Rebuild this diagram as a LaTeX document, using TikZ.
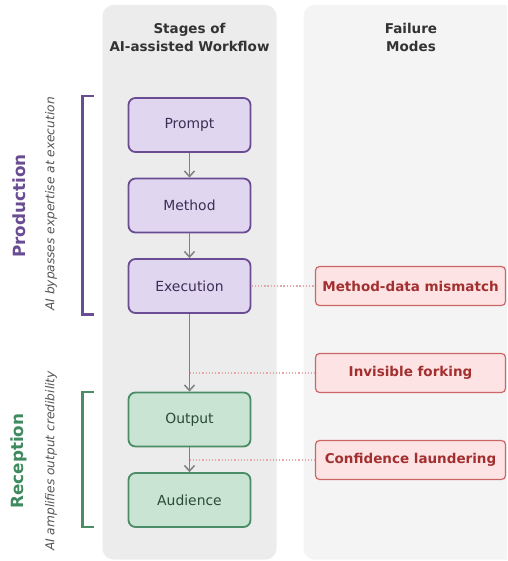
\documentclass[tikz,border=0pt]{standalone}
\usepackage{fontspec}
\setmainfont{DejaVu Sans}
\usetikzlibrary{arrows.meta}
\definecolor{panelA}{HTML}{ECECEC}
\definecolor{panelB}{HTML}{F4F4F4}
\definecolor{pfill}{HTML}{E0D6F0}
\definecolor{pdraw}{HTML}{6A4C93}
\definecolor{ptext}{HTML}{3C2F55}
\definecolor{gfill}{HTML}{C9E4D3}
\definecolor{gdraw}{HTML}{4A8C66}
\definecolor{gtext}{HTML}{2A4A37}
\definecolor{glabel}{HTML}{3F8A5F}
\definecolor{rfill}{HTML}{FDE3E3}
\definecolor{rdraw}{HTML}{CC6666}
\definecolor{rtext}{HTML}{A33030}
\definecolor{dotc}{HTML}{E6A8A8}
\definecolor{arrc}{HTML}{808080}
\definecolor{headc}{HTML}{333333}
\definecolor{notec}{HTML}{555555}
\tikzset{
  txt/.style={font=\fontsize{13.9}{16}\selectfont},
  stagebox/.style={txt, draw, line width=1.8pt, rounded corners=7pt,
    minimum width=122pt, minimum height=54pt, inner sep=0pt},
  prod/.style={stagebox, fill=pfill, draw=pdraw, text=ptext},
  recp/.style={stagebox, fill=gfill, draw=gdraw, text=gtext},
  fail/.style={font=\fontsize{13.5}{16}\selectfont\bfseries, draw=rdraw, fill=rfill,
    text=rtext, line width=1.2pt, rounded corners=4pt,
    minimum width=190pt, minimum height=39pt, inner sep=0pt},
  head/.style={font=\fontsize{13.5}{16}\selectfont\bfseries, text=headc, anchor=base},
  flow/.style={draw=arrc, line width=1.5pt, -{Straight Barb[length=5.5pt,width=10pt,line width=1.5pt]}},
  link/.style={draw=dotc, line width=1.2pt, dash pattern=on 1.3pt off 1.9pt},
  brace/.style={line width=2.4pt},
  phase/.style={font=\fontsize{16.8}{19}\selectfont\bfseries, rotate=90},
  note/.style={font=\fontsize{12.2}{14}\selectfont\itshape, text=notec, rotate=90},
}
\begin{document}
\begin{tikzpicture}[x=1pt,y=-1pt]
\useasboundingbox (0,0) rectangle (507,561);
\clip (0,0) rectangle (507,561);
% panels
\fill[panelA, rounded corners=11pt] (102.5,5) rectangle (276.5,559.5);
\fill[panelB, rounded corners=11pt] (303.5,5) rectangle (530,559.5);
% headers
\node[head] (h1) at (189.5,34) {Stages of};
\node[head] (h2) at (189.5,52) {AI-assisted Workflow};
\node[head] (h3) at (411,34) {Failure};
\node[head] (h4) at (411,52) {Modes};
% stages
\node[prod] (prompt) at (189.5,125) {Prompt};
\node[prod] (method) at (189.5,205.5) {Method};
\node[prod] (exec) at (189.5,286) {Execution};
\node[recp] (out) at (189.5,419.5) {Output};
\node[recp] (aud) at (189.5,500) {Audience};
% failure modes
\node[fail] (mdm) at (410.5,286) {Method-data mismatch};
\node[fail] (fork) at (410.5,373) {Invisible forking};
\node[fail] (conf) at (410.5,460) {Confidence laundering};
% flow arrows
\draw[flow] (prompt) -- (method);
\draw[flow] (method) -- (exec);
\draw[flow] (exec) -- (out);
\draw[flow] (out) -- (aud);
% dotted links
\draw[link] (exec.east) -- (mdm.west);
\draw[link] (exec.south |- fork.west) -- (fork.west);
\draw[link] (out.south |- conf.west) -- (conf.west);
% brackets
\draw[brace, pdraw] (93.5,96) -- (82.5,96) -- (82.5,314.5) -- (93.5,314.5);
\draw[brace, gdraw] (93.5,392) -- (82.5,392) -- (82.5,527) -- (93.5,527);
% phase labels
\node[phase, text=pdraw] (plabel) at (19,206) {Production};
\node[note] (pnote) at (51,204) {AI bypasses expertise at execution};
\node[phase, text=glabel] (rlabel) at (19,461) {Reception};
\node[note] (rnote) at (51,461) {AI amplifies output credibility};
\end{tikzpicture}
\end{document}
